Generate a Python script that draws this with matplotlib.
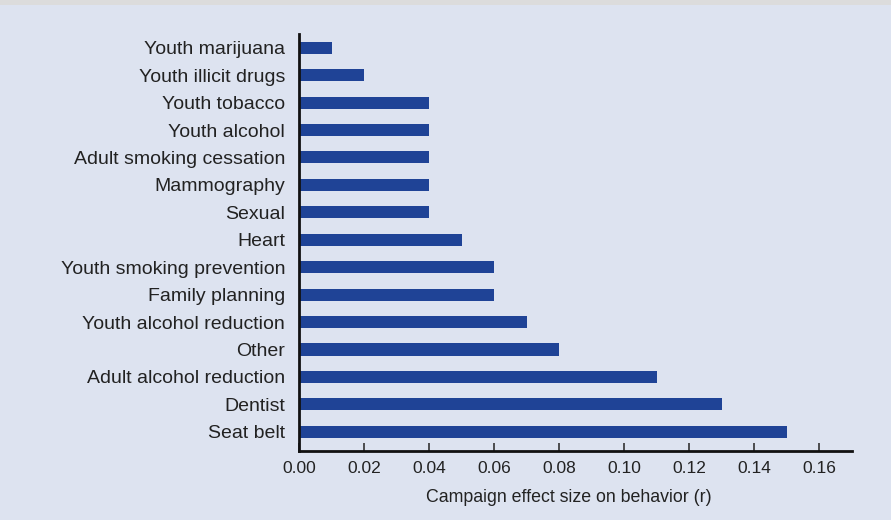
import matplotlib.pyplot as plt
from matplotlib.patches import Rectangle

# Campaign categories, top to bottom as shown
categories = [
    "Youth marijuana", "Youth illicit drugs", "Youth tobacco", "Youth alcohol",
    "Adult smoking cessation", "Mammography", "Sexual", "Heart",
    "Youth smoking prevention", "Family planning", "Youth alcohol reduction",
    "Other", "Adult alcohol reduction", "Dentist", "Seat belt",
]
effect_sizes = [0.01, 0.02, 0.04, 0.04, 0.04, 0.04, 0.04, 0.05,
                0.06, 0.06, 0.07, 0.08, 0.11, 0.13, 0.15]
x_ticks = [0.00, 0.02, 0.04, 0.06, 0.08, 0.10, 0.12, 0.14, 0.16]

bg = "#dde3f0"
bar_color = "#1f4396"

plt.rcParams['font.family'] = ['Liberation Sans', 'DejaVu Sans']

fig = plt.figure(figsize=(8.91, 5.2), dpi=100)
fig.patch.set_facecolor(bg)
# thin grey strip along the top edge
fig.patches.append(Rectangle((0, 0.99), 1, 0.01, transform=fig.transFigure,
                             facecolor="#dcdcdc", edgecolor="none"))

ax = fig.add_axes([0.3356, 0.1327, 0.6204, 0.8019])
ax.set_facecolor(bg)

# reverse so the first category sits on top
ypos = list(range(len(categories)))[::-1]
ax.barh(ypos, effect_sizes, height=0.44, color=bar_color, align="center")

ax.set_xlim(0, 0.17)
ax.set_ylim(-0.7, 14.5)
ax.set_xticks(x_ticks)
ax.set_xticklabels(["%.2f" % t for t in x_ticks], fontsize=12.5, color="#222222")
ax.set_yticks(ypos)
ax.set_yticklabels(categories, fontsize=14, color="#222222")

ax.tick_params(axis="x", direction="in", length=6, width=1.2, color="#333333", pad=7)
ax.tick_params(axis="y", length=0, pad=10)

for side in ["top", "right"]:
    ax.spines[side].set_visible(False)
for side in ["left", "bottom"]:
    ax.spines[side].set_linewidth(2)
    ax.spines[side].set_color("#111111")

ax.set_xlabel("Campaign effect size on behavior (r)", fontsize=12.8,
              color="#222222")
ax.xaxis.set_label_coords(0.488, -0.09)

fig.savefig("out.png", dpi=100, facecolor=bg)
